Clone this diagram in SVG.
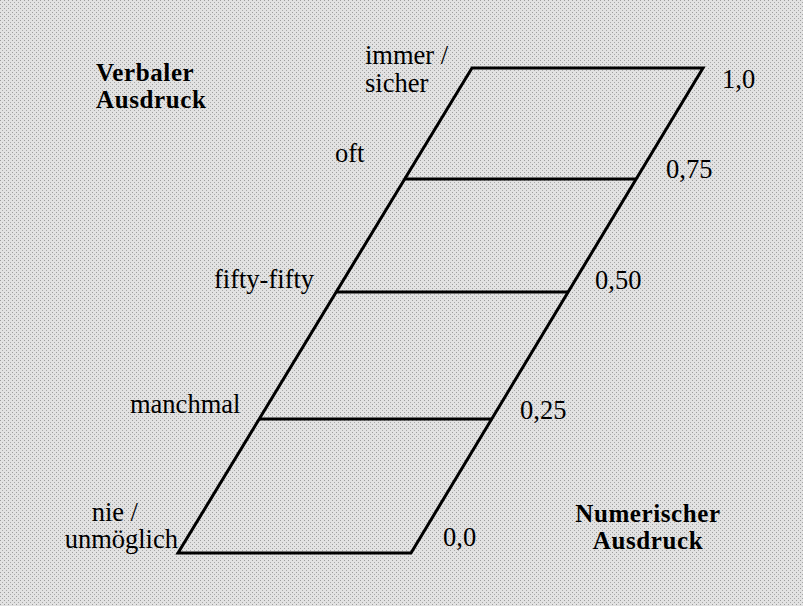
<svg xmlns="http://www.w3.org/2000/svg" width="803" height="606" viewBox="0 0 803 606">
<defs>
<pattern id="dots" width="4" height="4" patternUnits="userSpaceOnUse">
<rect width="4" height="4" fill="#e2e2e2"/>
<rect x="0" y="0" width="1" height="1" fill="#9c9c9c"/>
<rect x="2" y="2" width="1" height="1" fill="#a8a8a8"/>
</pattern>
</defs>
<style>
text{font-family:"Liberation Serif","Times New Roman",serif;font-size:26.5px;fill:#000}
.b{font-size:25px;font-weight:bold;letter-spacing:0.6px}
.ln{stroke:#000;stroke-width:3;fill:none;stroke-linejoin:miter}
</style>
<rect width="803" height="606" fill="url(#dots)"/>
<g id="connectors">
<polygon class="ln" points="178,553 472,68 703,68 411,553"/>
<line class="ln" x1="404.5" y1="179" x2="636.5" y2="179"/>
<line class="ln" x1="336.5" y1="292" x2="568.5" y2="292"/>
<line class="ln" x1="259" y1="419" x2="491.5" y2="419"/>
</g>
<g id="title-verbal"><text class="b"><tspan x="96" y="81">Verbaler</tspan><tspan x="96" y="108">Ausdruck</tspan></text></g>
<g id="title-numeric"><text class="b" text-anchor="middle"><tspan x="648" y="522">Numerischer</tspan><tspan x="648" y="549">Ausdruck</tspan></text></g>
<g id="v-immer"><text><tspan x="365" y="64">immer /</tspan><tspan x="365" y="91.5">sicher</tspan></text></g>
<g id="v-oft"><text x="335" y="162">oft</text></g>
<g id="v-fifty"><text x="214" y="288">fifty-fifty</text></g>
<g id="v-manchmal"><text x="130" y="413">manchmal</text></g>
<g id="v-nie"><text text-anchor="end"><tspan x="138" y="521">nie /</tspan><tspan x="178" y="548">unmöglich</tspan></text></g>
<g id="n-10"><text x="722" y="88">1,0</text></g>
<g id="n-075"><text x="666" y="178">0,75</text></g>
<g id="n-050"><text x="595" y="289">0,50</text></g>
<g id="n-025"><text x="520" y="419">0,25</text></g>
<g id="n-00"><text x="443" y="546">0,0</text></g>
</svg>
